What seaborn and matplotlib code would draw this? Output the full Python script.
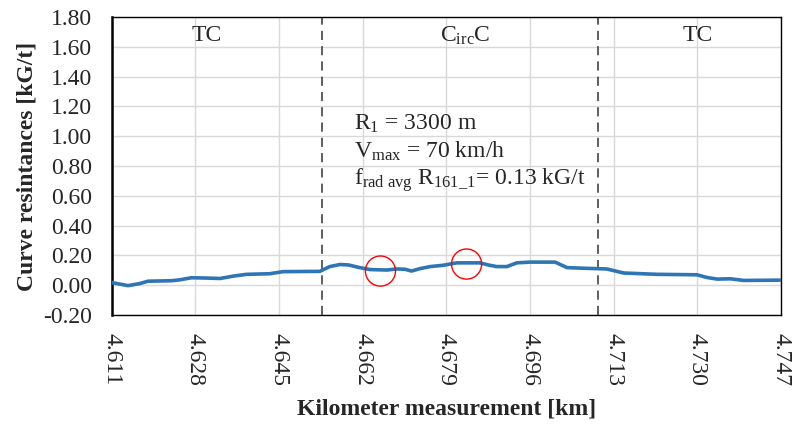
import matplotlib
matplotlib.use("Agg")
import matplotlib.pyplot as plt
import seaborn as sns
import pandas as pd

# Data
km = [4.611, 4.6143, 4.6167, 4.6184, 4.6231, 4.6248, 4.6272, 4.6303, 4.6330, 4.6357,
      4.6384, 4.6431, 4.6458, 4.6533, 4.6553, 4.6574, 4.6591, 4.6614, 4.6635, 4.6669,
      4.6689, 4.6706, 4.6719, 4.6736, 4.6757, 4.6784, 4.6811, 4.6858, 4.6875, 4.6892,
      4.6913, 4.6933, 4.6960, 4.7011, 4.7035, 4.7068, 4.7116, 4.7150, 4.7218, 4.7299,
      4.7319, 4.7340, 4.7367, 4.7394, 4.747]
resistance = [0.018, -0.003, 0.011, 0.027, 0.030, 0.036, 0.050, 0.048, 0.045, 0.061,
              0.073, 0.077, 0.091, 0.093, 0.125, 0.139, 0.136, 0.118, 0.105, 0.102,
              0.109, 0.107, 0.095, 0.111, 0.125, 0.134, 0.150, 0.150, 0.136, 0.125,
              0.125, 0.150, 0.155, 0.155, 0.118, 0.114, 0.109, 0.082, 0.073, 0.070,
              0.052, 0.041, 0.043, 0.032, 0.034]
circle_km = [4.6656, 4.6831]
circle_val = [0.095, 0.142]
boundaries = [4.6537, 4.7099]
section_labels = ["TC", "C$_{\\mathrm{irc}}$C", "TC"]
section_x = [4.6304, 4.6828, 4.7301]
xticks = [4.611, 4.628, 4.645, 4.662, 4.679, 4.696, 4.713, 4.730, 4.747]
yticks = [-0.20, 0.00, 0.20, 0.40, 0.60, 0.80, 1.00, 1.20, 1.40, 1.60, 1.80]
info_lines = ["R$_{\\mathrm{1}}$ = 3300 m",
              "V$_{\\mathrm{max}}$ = 70 km/h",
              "f$_{\\mathrm{rad\\ avg}}$ R$_{\\mathrm{161\\_1}}$= 0.13 kG/t"]

sns.set_style("white")
plt.rcParams['font.family'] = ['Liberation Serif', 'DejaVu Serif']
plt.rcParams['mathtext.fontset'] = 'custom'
plt.rcParams['mathtext.rm'] = 'Liberation Serif'
plt.rcParams['mathtext.it'] = 'Liberation Serif:italic'
plt.rcParams['mathtext.bf'] = 'Liberation Serif:bold'

FS = 17

fig = plt.figure(figsize=(7.95, 4.25), dpi=100)
ax = fig.add_axes([0.1405, 0.2588, 0.8420, 0.7012])

df = pd.DataFrame({"km": km, "r": resistance})
sns.lineplot(data=df, x="km", y="r", ax=ax, color="#2E75B6", linewidth=2.6, zorder=3)
cdf = pd.DataFrame({"km": circle_km, "r": circle_val})
sns.scatterplot(data=cdf, x="km", y="r", ax=ax, s=470, facecolor="none",
                edgecolor="red", linewidth=1.0, zorder=4)

for b in boundaries:
    ax.axvline(b, color="#333333", linestyle=(0, (6, 4)), linewidth=1.1, zorder=2)

for lx, lab in zip(section_x, section_labels):
    ax.text(lx, 1.675, lab, ha="center", va="center", fontsize=FS)

for i, line in enumerate(info_lines):
    ax.text(4.6602, 1.085 - i * 0.19, line, ha="left", va="center", fontsize=FS)

ax.set_xlim(xticks[0], xticks[-1])
ax.set_ylim(-0.20, 1.80)
ax.set_xticks(xticks)
ax.set_xticklabels([f"{t:.3f}" for t in xticks], rotation=-90, fontsize=FS)
ax.set_yticks(yticks)
ax.set_yticklabels([f"{t:.2f}" for t in yticks], fontsize=FS)
ax.tick_params(axis="x", length=0, pad=13)
ax.tick_params(axis="y", length=0, pad=14)
ax.grid(True, color="#D9D9D9", linewidth=1.0, zorder=0)
ax.set_axisbelow(True)

for s in ["top", "right", "bottom"]:
    ax.spines[s].set_color("black")
    ax.spines[s].set_linewidth(1.0)
    ax.spines[s].set_visible(True)
ax.spines["left"].set_color("black")
ax.spines["left"].set_linewidth(1.8)

ax.set_xlabel("Kilometer measurement [km]", fontsize=FS, fontweight="bold", labelpad=9)
ax.set_ylabel("Curve resintances [kG/t]", fontsize=FS, fontweight="bold", labelpad=4)
ax.legend_ = None

fig.savefig("out.png", dpi=100)
